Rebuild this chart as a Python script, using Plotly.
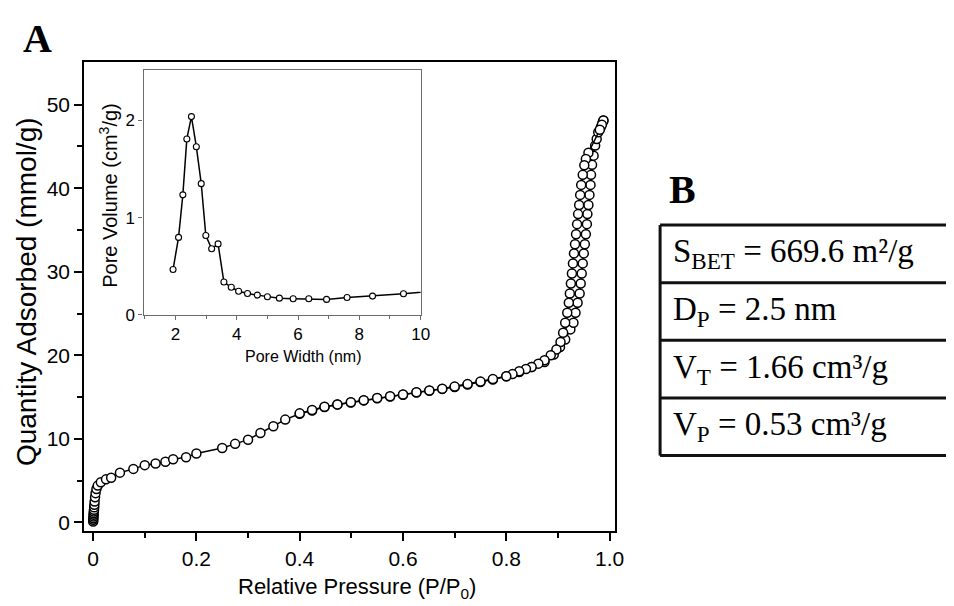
import plotly.graph_objects as go

# ---------------- data ----------------
# Main isotherm: adsorption branch (relative pressure, quantity adsorbed mmol/g)
p_ads = [0.0002, 0.0004, 0.0006, 0.0008, 0.001, 0.0012, 0.0015, 0.0018, 0.0021, 0.0025,
         0.003, 0.0038, 0.0048, 0.0065, 0.009, 0.015, 0.025, 0.035, 0.052, 0.078,
         0.10, 0.121, 0.14, 0.155, 0.18, 0.20, 0.25, 0.275, 0.30, 0.324,
         0.349, 0.372, 0.40, 0.424, 0.448, 0.473, 0.499, 0.524, 0.55, 0.575,
         0.60, 0.626, 0.651, 0.676, 0.70, 0.725, 0.75, 0.774, 0.80, 0.825,
         0.849, 0.874, 0.892, 0.904, 0.914, 0.924, 0.930, 0.934, 0.938, 0.942,
         0.944, 0.946, 0.948, 0.950, 0.952, 0.954, 0.956, 0.957, 0.959, 0.961,
         0.963, 0.964, 0.966, 0.969, 0.972, 0.975, 0.978, 0.983, 0.986, 0.988]
v_ads = [0.1, 0.3, 0.5, 0.7, 0.9, 1.1, 1.3, 1.5, 1.8, 2.1,
         2.5, 3.0, 3.5, 4.0, 4.4, 4.8, 5.15, 5.35, 5.95, 6.4,
         6.85, 7.05, 7.25, 7.55, 7.8, 8.25, 8.9, 9.4, 9.9, 10.7,
         11.5, 12.3, 13.0, 13.4, 13.8, 14.1, 14.35, 14.6, 14.85, 15.07,
         15.27, 15.55, 15.75, 15.98, 16.2, 16.5, 16.8, 17.1, 17.5, 18.0,
         18.6, 19.2, 20.1, 21.0, 21.9, 23.1, 23.9, 25.1, 26.3, 27.4,
         28.6, 29.8, 31.0, 32.2, 33.3, 34.5, 35.7, 36.9, 38.0, 39.2,
         40.4, 41.6, 42.8, 43.9, 45.1, 45.9, 46.7, 47.3, 47.8, 48.1]

# Desorption branch
p_des = [0.988, 0.985, 0.981, 0.959, 0.954, 0.951, 0.948, 0.945, 0.943, 0.941,
         0.939, 0.937, 0.935, 0.933, 0.931, 0.929, 0.927, 0.925, 0.923, 0.921,
         0.918, 0.914, 0.910, 0.905, 0.897, 0.886, 0.874, 0.862, 0.849, 0.838,
         0.825, 0.812, 0.80, 0.774, 0.75, 0.725, 0.70, 0.676, 0.651, 0.626,
         0.60, 0.575, 0.55, 0.524, 0.499, 0.473, 0.448, 0.424, 0.40]
v_des = [48.1, 47.6, 47.0, 44.25, 43.5, 42.75, 41.6, 40.4, 39.2, 38.0,
         36.9, 35.7, 34.5, 33.3, 32.2, 31.0, 29.8, 28.6, 27.4, 26.3,
         25.1, 23.9, 22.7, 21.6, 20.7, 20.0, 19.4, 19.0, 18.6, 18.35,
         18.1, 17.75, 17.5, 17.15, 16.85, 16.55, 16.25, 16.0, 15.8, 15.57,
         15.3, 15.1, 14.88, 14.62, 14.37, 14.12, 13.85, 13.45, 13.05]

# Inset: pore size distribution
pore_width = [1.92, 2.10, 2.24, 2.37, 2.52, 2.68, 2.84, 2.99, 3.18, 3.39,
              3.58, 3.82, 4.06, 4.35, 4.67, 5.00, 5.39, 5.84, 6.35, 6.93,
              7.60, 8.43, 9.44, 10.6]
pore_volume = [0.466, 0.797, 1.235, 1.81, 2.04, 1.73, 1.35, 0.817, 0.68, 0.73,
               0.338, 0.284, 0.243, 0.22, 0.203, 0.186, 0.172, 0.166, 0.166, 0.159,
               0.179, 0.193, 0.217, 0.25]

# Tick labels
main_x_ticks = [0, 0.2, 0.4, 0.6, 0.8, 1.0]
main_x_ticktext = ["0", "0.2", "0.4", "0.6", "0.8", "1.0"]
main_y_ticks = [0, 10, 20, 30, 40, 50]
inset_x_ticks = [2, 4, 6, 8, 10]
inset_y_ticks = [0, 1, 2]

# Table B
table_rows = [
    "S<sub>BET</sub> = 669.6 m²/g",
    "D<sub>P</sub> = 2.5 nm",
    "V<sub>T</sub> = 1.66 cm³/g",
    "V<sub>P</sub> = 0.53 cm³/g",
]

# ---------------- layout helpers ----------------
W, H = 954, 606
def px(x):
    return x / W
def py(y):
    return 1 - y / H

SANS = "Liberation Sans, Arial, sans-serif"
SERIF = "Liberation Serif, Times New Roman, serif"
INSET_GRAY = "#6b6b6b"

fig = go.Figure()

marker_main = dict(symbol="circle", size=9, color="white", line=dict(color="black", width=1.5))
fig.add_trace(go.Scatter(x=p_ads, y=v_ads, mode="lines+markers", xaxis="x", yaxis="y",
                         line=dict(color="black", width=1.5), marker=marker_main,
                         showlegend=False, hoverinfo="skip"))
fig.add_trace(go.Scatter(x=p_des, y=v_des, mode="lines+markers", xaxis="x", yaxis="y",
                         line=dict(color="black", width=1.5), marker=marker_main,
                         showlegend=False, hoverinfo="skip"))
fig.add_trace(go.Scatter(x=pore_width, y=pore_volume, mode="lines+markers", xaxis="x2", yaxis="y2",
                         line=dict(color="black", width=1.5),
                         marker=dict(symbol="circle", size=6, color="white",
                                     line=dict(color="black", width=1.1)),
                         showlegend=False, hoverinfo="skip"))

main_dom_x = [px(77), px(613)]
main_dom_y = [py(532), py(55)]
ins_dom_x = [px(137), px(417)]
ins_dom_y = [py(312), py(63)]

x_range = [-0.0172, 1.0096]
y_range = [-1.06, 55.1]
ix_range = [0.958, 10]
iy_range = [0, 2.52]

tickfont_main = dict(family=SANS, size=21, color="black")
tickfont_ins = dict(family=SANS, size=17, color="black")

fig.update_layout(
    width=W, height=H,
    margin=dict(l=0, r=0, t=0, b=0),
    paper_bgcolor="white", plot_bgcolor="white",
    xaxis=dict(domain=main_dom_x, anchor="y", range=x_range, showgrid=False, zeroline=False,
               showline=True, linecolor="black", linewidth=2, mirror=True,
               ticks="outside", ticklen=8, tickwidth=1.5, tickcolor="black",
               tickmode="array", tickvals=main_x_ticks, ticktext=main_x_ticktext,
               minor=dict(tickmode="array", tickvals=[0.1, 0.3, 0.5, 0.7, 0.9],
                          ticks="outside", ticklen=5, tickwidth=1.5, tickcolor="black"),
               tickfont=tickfont_main),
    yaxis=dict(domain=main_dom_y, anchor="x", range=y_range, showgrid=False, zeroline=False,
               showline=True, linecolor="black", linewidth=2, mirror=True,
               ticks="outside", ticklen=8, tickwidth=1.5, tickcolor="black",
               tickmode="array", tickvals=main_y_ticks,
               minor=dict(tickmode="array", tickvals=[5, 15, 25, 35, 45],
                          ticks="outside", ticklen=5, tickwidth=1.5, tickcolor="black"),
               tickfont=tickfont_main),
    yaxis3=dict(overlaying="y", side="right", anchor="x", range=y_range, showgrid=False,
                zeroline=False, showline=False, ticks="inside", ticklen=5, tickwidth=1.5,
                tickcolor="black", tickmode="array", tickvals=[0, 5, 10, 15, 20, 25, 30, 35, 40, 45, 50],
                showticklabels=False),
    xaxis2=dict(domain=ins_dom_x, anchor="y2", range=ix_range, showgrid=False, zeroline=False,
                showline=True, linecolor=INSET_GRAY, linewidth=1.2, mirror=True,
                ticks="outside", ticklen=4, tickwidth=1, tickcolor=INSET_GRAY,
                tickmode="array", tickvals=inset_x_ticks,
                minor=dict(tickmode="array", tickvals=[1, 3, 5, 7, 9], ticks="outside",
                           ticklen=3, tickwidth=1, tickcolor=INSET_GRAY),
                tickfont=tickfont_ins),
    xaxis4=dict(overlaying="x2", side="top", anchor="y2", range=ix_range, showgrid=False,
                zeroline=False, showline=False, ticks="inside", ticklen=3, tickwidth=1,
                tickcolor=INSET_GRAY, tickmode="array", tickvals=[1, 2, 3, 4, 5, 6, 7, 8, 9],
                showticklabels=False),
    yaxis2=dict(domain=ins_dom_y, anchor="x2", range=iy_range, showgrid=False, zeroline=False,
                showline=True, linecolor=INSET_GRAY, linewidth=1.2, mirror=True,
                ticks="outside", ticklen=4, tickwidth=1, tickcolor=INSET_GRAY,
                tickmode="array", tickvals=inset_y_ticks, tickfont=tickfont_ins),
    yaxis4=dict(overlaying="y2", side="right", anchor="x2", range=iy_range, showgrid=False,
                zeroline=False, showline=False, ticks="inside", ticklen=3, tickwidth=1,
                tickcolor=INSET_GRAY, tickmode="array", tickvals=[0.5, 1, 1.5, 2],
                showticklabels=False),
)

ann = []
ann.append(dict(text="Relative Pressure (P/P<sub>0</sub>)", x=px(353), y=py(590),
                xref="paper", yref="paper", showarrow=False, xanchor="center", yanchor="middle",
                font=dict(family=SANS, size=22, color="black")))
ann.append(dict(text="Quantity Adsorbed (mmol/g)", x=px(18), y=py(288), textangle=-90,
                xref="paper", yref="paper", showarrow=False, xanchor="center", yanchor="middle",
                font=dict(family=SANS, size=28, color="black")))
ann.append(dict(text="Pore Width (nm)", x=px(298), y=py(354),
                xref="paper", yref="paper", showarrow=False, xanchor="center", yanchor="middle",
                font=dict(family=SANS, size=16, color="black")))
ann.append(dict(text="Pore Volume (cm<sup>3</sup>/g)", x=px(102), y=py(190), textangle=-90,
                xref="paper", yref="paper", showarrow=False, xanchor="center", yanchor="middle",
                font=dict(family=SANS, size=20, color="black")))
ann.append(dict(text="<b>A</b>", x=px(30), y=py(31), xref="paper", yref="paper", showarrow=False,
                xanchor="center", yanchor="middle", font=dict(family=SERIF, size=40, color="black")))
ann.append(dict(text="<b>B</b>", x=px(682), y=py(185), xref="paper", yref="paper", showarrow=False,
                xanchor="center", yanchor="middle", font=dict(family=SERIF, size=40, color="black")))

# Table B geometry
tbl_left, tbl_top, row_h = 659, 220.7, 58.6
shapes = []
n = len(table_rows)
for i in range(n + 1):
    yy = tbl_top + i * row_h
    shapes.append(dict(type="line", xref="paper", yref="paper", x0=px(tbl_left), x1=1.01,
                       y0=py(yy), y1=py(yy), line=dict(color="#111", width=3)))
shapes.append(dict(type="line", xref="paper", yref="paper", x0=px(tbl_left), x1=px(tbl_left),
                   y0=py(tbl_top), y1=py(tbl_top + n * row_h), line=dict(color="#111", width=3)))
for i, row in enumerate(table_rows):
    yc = tbl_top + (i + 0.5) * row_h
    ann.append(dict(text=row, x=px(670), y=py(yc), xref="paper", yref="paper", showarrow=False,
                    xanchor="left", yanchor="middle", font=dict(family=SERIF, size=33, color="black")))

fig.update_layout(annotations=ann, shapes=shapes)
fig.write_html("out.html")
